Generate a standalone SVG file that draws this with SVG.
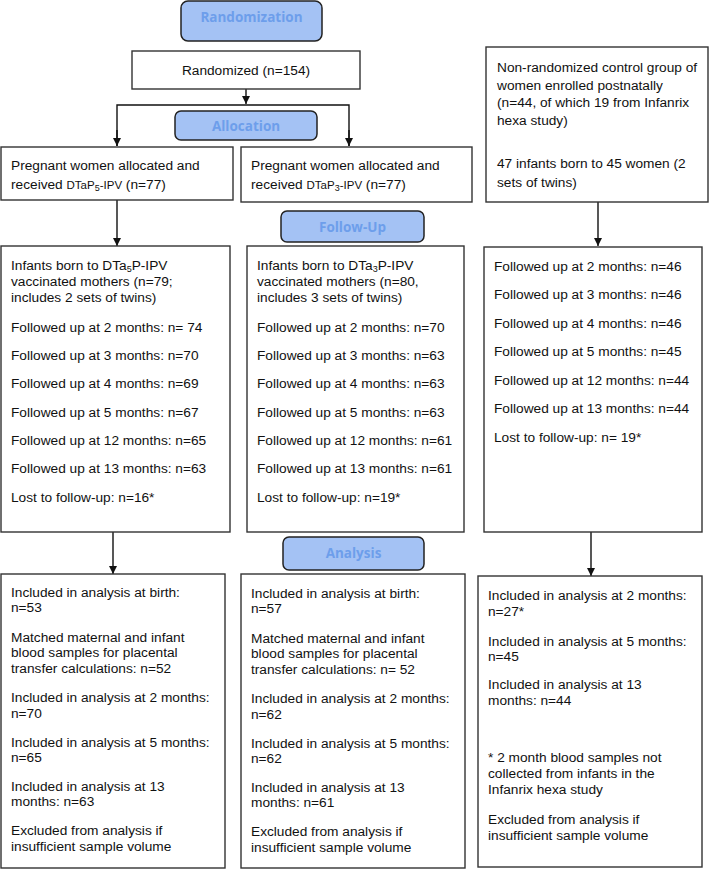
<svg xmlns="http://www.w3.org/2000/svg" width="709" height="869" viewBox="0 0 709 869">
<defs>
<marker id="ah" viewBox="0 0 10 10" refX="10" refY="5" markerWidth="8" markerHeight="8" markerUnits="userSpaceOnUse" orient="auto">
<path d="M0,0 L10,5 L0,10 z" fill="#111"/>
</marker>
</defs>
<style>
.box{fill:#fff;stroke:#333;stroke-width:1.4}
.lbl{fill:#a4c2f4;stroke:#222;stroke-width:1.5}
.lt{font-family:"Open Sans","Liberation Sans",sans-serif;font-weight:bold;font-size:13.5px;fill:#6d9eeb;text-anchor:middle}
.t{font-family:"Liberation Sans",Arial,sans-serif;font-size:13.7px;fill:#111}
.s{font-size:11.5px}
.sub{font-size:9px}
.c{fill:none;stroke:#111;stroke-width:1.4}
</style>
<rect width="709" height="869" fill="#fff"/>

<g id="connectors">
<line class="c" x1="246" y1="89" x2="246" y2="104" marker-end="url(#ah)"/>
<polyline class="c" points="117,146 117,105 349,105 349,146"/>
<line class="c" x1="117" y1="130" x2="117" y2="146" marker-end="url(#ah)"/>
<line class="c" x1="349" y1="130" x2="349" y2="146" marker-end="url(#ah)"/>
<line class="c" x1="117" y1="200" x2="117" y2="246" marker-end="url(#ah)"/>
<line class="c" x1="598" y1="202" x2="598" y2="246" marker-end="url(#ah)"/>
<line class="c" x1="113" y1="532" x2="113" y2="574" marker-end="url(#ah)"/>
<line class="c" x1="591" y1="532" x2="591" y2="576" marker-end="url(#ah)"/>
</g>

<g id="randomization">
<rect class="lbl" x="181" y="1" width="141" height="40" rx="7"/>
<text class="lt" x="251.5" y="22">Randomization</text>
</g>

<g id="randomized">
<rect class="box" x="132" y="51" width="228" height="38"/>
<text class="t" x="246" y="75" text-anchor="middle">Randomized (n=154)</text>
</g>

<g id="allocation">
<rect class="lbl" x="175" y="111" width="142" height="29" rx="6"/>
<text class="lt" x="246" y="131">Allocation</text>
</g>

<g id="alloc-left">
<rect class="box" x="1" y="147" width="232" height="53"/>
<text class="t" x="11" y="170">Pregnant women allocated and</text>
<text class="t" x="11" y="189">received <tspan class="s">DTaP</tspan><tspan class="sub" dy="2">5</tspan><tspan class="s" dy="-2">-IPV</tspan> (n=77)</text>
</g>

<g id="alloc-right">
<rect class="box" x="241" y="147" width="231" height="55"/>
<text class="t" x="251" y="170">Pregnant women allocated and</text>
<text class="t" x="251" y="189">received <tspan class="s">DTaP</tspan><tspan class="sub" dy="2">3</tspan><tspan class="s" dy="-2">-IPV</tspan> (n=77)</text>
</g>

<g id="control">
<rect class="box" x="486" y="47" width="222" height="155"/>
<text class="t" x="497" y="72">Non-randomized control group of</text>
<text class="t" x="497" y="90">women enrolled postnatally</text>
<text class="t" x="497" y="107">(n=44, of which 19 from Infanrix</text>
<text class="t" x="497" y="125">hexa study)</text>
<text class="t" x="497" y="168">47 infants born to 45 women (2</text>
<text class="t" x="497" y="187">sets of twins)</text>
</g>

<g id="followup">
<rect class="lbl" x="281" y="211" width="143" height="31" rx="6"/>
<text class="lt" x="352.5" y="232">Follow-Up</text>
</g>

<g id="follow-left">
<rect class="box" x="1" y="246" width="229" height="286"/>
<text class="t" x="11" y="270">Infants born to DTa<tspan class="sub" dy="2">5</tspan><tspan dy="-2">P-IPV</tspan></text>
<text class="t" x="11" y="286">vaccinated mothers (n=79;</text>
<text class="t" x="11" y="302">includes 2 sets of twins)</text>
<text class="t" x="11" y="332">Followed up at 2 months: n= 74</text>
<text class="t" x="11" y="360">Followed up at 3 months: n=70</text>
<text class="t" x="11" y="388">Followed up at 4 months: n=69</text>
<text class="t" x="11" y="417">Followed up at 5 months: n=67</text>
<text class="t" x="11" y="445">Followed up at 12 months: n=65</text>
<text class="t" x="11" y="473">Followed up at 13 months: n=63</text>
<text class="t" x="11" y="502">Lost to follow-up: n=16*</text>
</g>

<g id="follow-mid">
<rect class="box" x="247" y="246" width="217" height="286"/>
<text class="t" x="257" y="270">Infants born to DTa<tspan class="sub" dy="2">3</tspan><tspan dy="-2">P-IPV</tspan></text>
<text class="t" x="257" y="286">vaccinated mothers (n=80,</text>
<text class="t" x="257" y="302">includes 3 sets of twins)</text>
<text class="t" x="257" y="332">Followed up at 2 months: n=70</text>
<text class="t" x="257" y="360">Followed up at 3 months: n=63</text>
<text class="t" x="257" y="388">Followed up at 4 months: n=63</text>
<text class="t" x="257" y="417">Followed up at 5 months: n=63</text>
<text class="t" x="257" y="445">Followed up at 12 months: n=61</text>
<text class="t" x="257" y="473">Followed up at 13 months: n=61</text>
<text class="t" x="257" y="502">Lost to follow-up: n=19*</text>
</g>

<g id="follow-right">
<rect class="box" x="484" y="247" width="218" height="285"/>
<text class="t" x="494" y="271">Followed up at 2 months: n=46</text>
<text class="t" x="494" y="299">Followed up at 3 months: n=46</text>
<text class="t" x="494" y="328">Followed up at 4 months: n=46</text>
<text class="t" x="494" y="356">Followed up at 5 months: n=45</text>
<text class="t" x="494" y="385">Followed up at 12 months: n=44</text>
<text class="t" x="494" y="413">Followed up at 13 months: n=44</text>
<text class="t" x="494" y="442">Lost to follow-up: n= 19*</text>
</g>

<g id="analysis">
<rect class="lbl" x="283" y="537" width="141" height="33" rx="6"/>
<text class="lt" x="353.5" y="558">Analysis</text>
</g>

<g id="anal-left">
<rect class="box" x="1" y="574" width="224" height="294"/>
<text class="t" x="11" y="597">Included in analysis at birth:</text>
<text class="t" x="11" y="612">n=53</text>
<text class="t" x="11" y="642">Matched maternal and infant</text>
<text class="t" x="11" y="657">blood samples for placental</text>
<text class="t" x="11" y="673">transfer calculations: n=52</text>
<text class="t" x="11" y="702">Included in analysis at 2 months:</text>
<text class="t" x="11" y="718">n=70</text>
<text class="t" x="11" y="747">Included in analysis at 5 months:</text>
<text class="t" x="11" y="762">n=65</text>
<text class="t" x="11" y="791">Included in analysis at 13</text>
<text class="t" x="11" y="806">months: n=63</text>
<text class="t" x="11" y="835">Excluded from analysis if</text>
<text class="t" x="11" y="851">insufficient sample volume</text>
</g>

<g id="anal-mid">
<rect class="box" x="241" y="574" width="224" height="294"/>
<text class="t" x="251" y="598">Included in analysis at birth:</text>
<text class="t" x="251" y="613">n=57</text>
<text class="t" x="251" y="643">Matched maternal and infant</text>
<text class="t" x="251" y="658">blood samples for placental</text>
<text class="t" x="251" y="674">transfer calculations: n= 52</text>
<text class="t" x="251" y="703">Included in analysis at 2 months:</text>
<text class="t" x="251" y="719">n=62</text>
<text class="t" x="251" y="748">Included in analysis at 5 months:</text>
<text class="t" x="251" y="763">n=62</text>
<text class="t" x="251" y="792">Included in analysis at 13</text>
<text class="t" x="251" y="807">months: n=61</text>
<text class="t" x="251" y="836">Excluded from analysis if</text>
<text class="t" x="251" y="852">insufficient sample volume</text>
</g>

<g id="anal-right">
<rect class="box" x="478" y="576" width="224" height="291"/>
<text class="t" x="488" y="600">Included in analysis at 2 months:</text>
<text class="t" x="488" y="616">n=27*</text>
<text class="t" x="488" y="646">Included in analysis at 5 months:</text>
<text class="t" x="488" y="661">n=45</text>
<text class="t" x="488" y="689">Included in analysis at 13</text>
<text class="t" x="488" y="705">months: n=44</text>
<text class="t" x="488" y="762">* 2 month blood samples not</text>
<text class="t" x="488" y="778">collected from infants in the</text>
<text class="t" x="488" y="794">Infanrix hexa study</text>
<text class="t" x="488" y="824">Excluded from analysis if</text>
<text class="t" x="488" y="840">insufficient sample volume</text>
</g>
</svg>
